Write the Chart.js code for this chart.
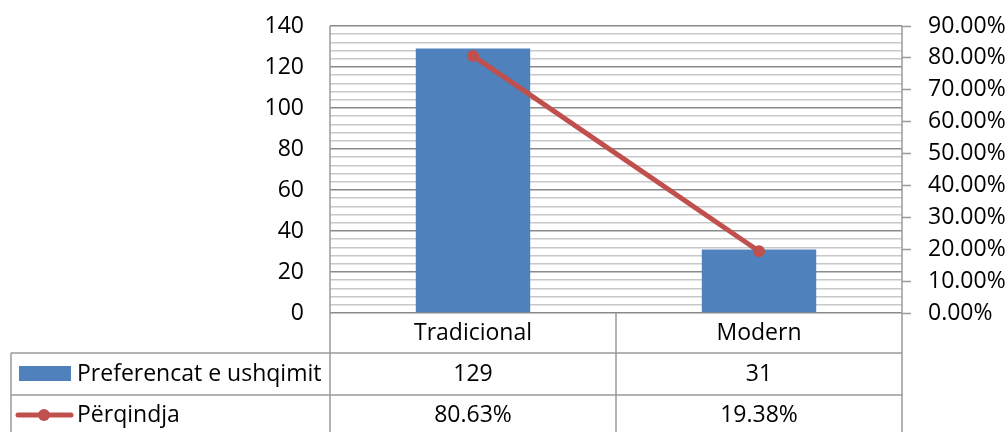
<!DOCTYPE html>
<html>
<head>
<meta charset="utf-8">
<script src="https://cdn.jsdelivr.net/npm/chart.js@4/dist/chart.umd.min.js"></script>
<style>
  body { margin: 0; background: #fff; }
  #wrap { width: 1008px; height: 432px; position: relative; }
</style>
</head>
<body>
<div id="wrap"><canvas id="food-chart"></canvas></div>
<script>
const categories = ['Tradicional', 'Modern'];
const barLabel = 'Preferencat e ushqimit';
const barValues = [129, 31];
const lineLabel = 'Përqindja';
const lineValues = [80.63, 19.38];

const BLUE = '#4F81BD';
const RED = '#C0504D';
const RULE = '#9a9a9a';
const FONT = '"Open Sans"';
const SIZE = 23;

Chart.defaults.font.family = FONT;
Chart.defaults.font.size = SIZE;
Chart.defaults.color = '#000';

function pct(v) {
    return v.toFixed(2) + '%';
}

// fixed axis widths; no extra padding above/below the plot for the end labels
function fixWidth(w) {
    return s => {
        s.width = w;
        s.paddingTop = 0;
        s.paddingBottom = 0;
    };
}

// data table under the plot: category row, then one row per series with its key
const dataTable = {
    id: 'dataTable',
    afterDraw(chart) {
        const ctx = chart.ctx;
        const a = chart.chartArea;
        const x = chart.scales.x;
        const H = chart.height;
        const tableLeft = 11;
        const rows = [a.bottom, a.bottom + 40, a.bottom + 82];
        const split = (x.getPixelForValue(0) + x.getPixelForValue(1)) / 2;

        ctx.save();
        ctx.strokeStyle = RULE;
        ctx.lineWidth = 1.5;
        const rule = (x1, y1, x2, y2) => {
            ctx.beginPath();
            ctx.moveTo(x1, y1);
            ctx.lineTo(x2, y2);
            ctx.stroke();
        };
        rule(a.left, a.top, a.left, H);
        rule(a.right, a.top, a.right, H);
        rule(split, a.bottom, split, H);
        rule(tableLeft, rows[1], tableLeft, H);
        rule(tableLeft, rows[1], a.right, rows[1]);
        rule(tableLeft, rows[2], a.right, rows[2]);

        ctx.font = SIZE + 'px ' + FONT;
        ctx.fillStyle = '#000';
        ctx.textBaseline = 'middle';
        ctx.textAlign = 'center';
        categories.forEach((c, i) => {
            const cx = x.getPixelForValue(i);
            ctx.fillText(c, cx, rows[0] + 20);
            ctx.fillText(String(barValues[i]), cx, rows[1] + 21);
            ctx.fillText(pct(lineValues[i]), cx, rows[2] + 20);
        });

        // legend keys
        ctx.fillStyle = BLUE;
        ctx.fillRect(19, rows[1] + 13, 52, 15);
        ctx.strokeStyle = RED;
        ctx.lineWidth = 5;
        ctx.lineCap = 'round';
        rule(18, rows[2] + 20, 71, rows[2] + 20);
        ctx.fillStyle = RED;
        ctx.beginPath();
        ctx.arc(44, rows[2] + 20, 6, 0, Math.PI * 2);
        ctx.fill();

        ctx.fillStyle = '#000';
        ctx.textAlign = 'left';
        ctx.fillText(barLabel, 77, rows[1] + 21);
        ctx.fillText(lineLabel, 77, rows[2] + 20);
        ctx.restore();
    }
};

new Chart(document.getElementById('food-chart'), {
    data: {
        labels: categories,
        datasets: [{
            type: 'line',
            label: lineLabel,
            data: lineValues,
            yAxisID: 'y1',
            borderColor: RED,
            backgroundColor: RED,
            borderWidth: 5,
            pointRadius: 6,
            pointBorderWidth: 0,
            order: 0
        }, {
            type: 'bar',
            label: barLabel,
            data: barValues,
            yAxisID: 'y',
            backgroundColor: BLUE,
            categoryPercentage: 1,
            barPercentage: 0.4,
            order: 1
        }]
    },
    options: {
        responsive: true,
        maintainAspectRatio: false,
        animation: false,
        layout: { padding: { top: 26, bottom: 119, left: 0, right: 0 } },
        plugins: {
            legend: { display: false },
            tooltip: { enabled: false }
        },
        scales: {
            x: { display: false },
            y: {
                position: 'left',
                min: 0,
                max: 140,
                afterFit: fixWidth(330),
                border: { display: false },
                grid: {
                    drawTicks: false,
                    lineWidth: 1.5,
                    color: c => c.tick.value % 20 === 0 ? '#8a8a8a' : '#c8c8c8'
                },
                ticks: {
                    stepSize: 4,
                    maxTicksLimit: 100,
                    autoSkip: false,
                    padding: 26,
                    callback: v => v % 20 === 0 ? v : ''
                }
            },
            y1: {
                position: 'right',
                min: 0,
                max: 90,
                afterFit: fixWidth(106),
                border: { display: false },
                grid: {
                    drawOnChartArea: false,
                    tickLength: 9,
                    tickWidth: 1.5,
                    tickColor: RULE
                },
                ticks: {
                    stepSize: 10,
                    padding: 17,
                    callback: v => pct(v)
                }
            }
        }
    },
    plugins: [dataTable]
});
</script>
</body>
</html>
